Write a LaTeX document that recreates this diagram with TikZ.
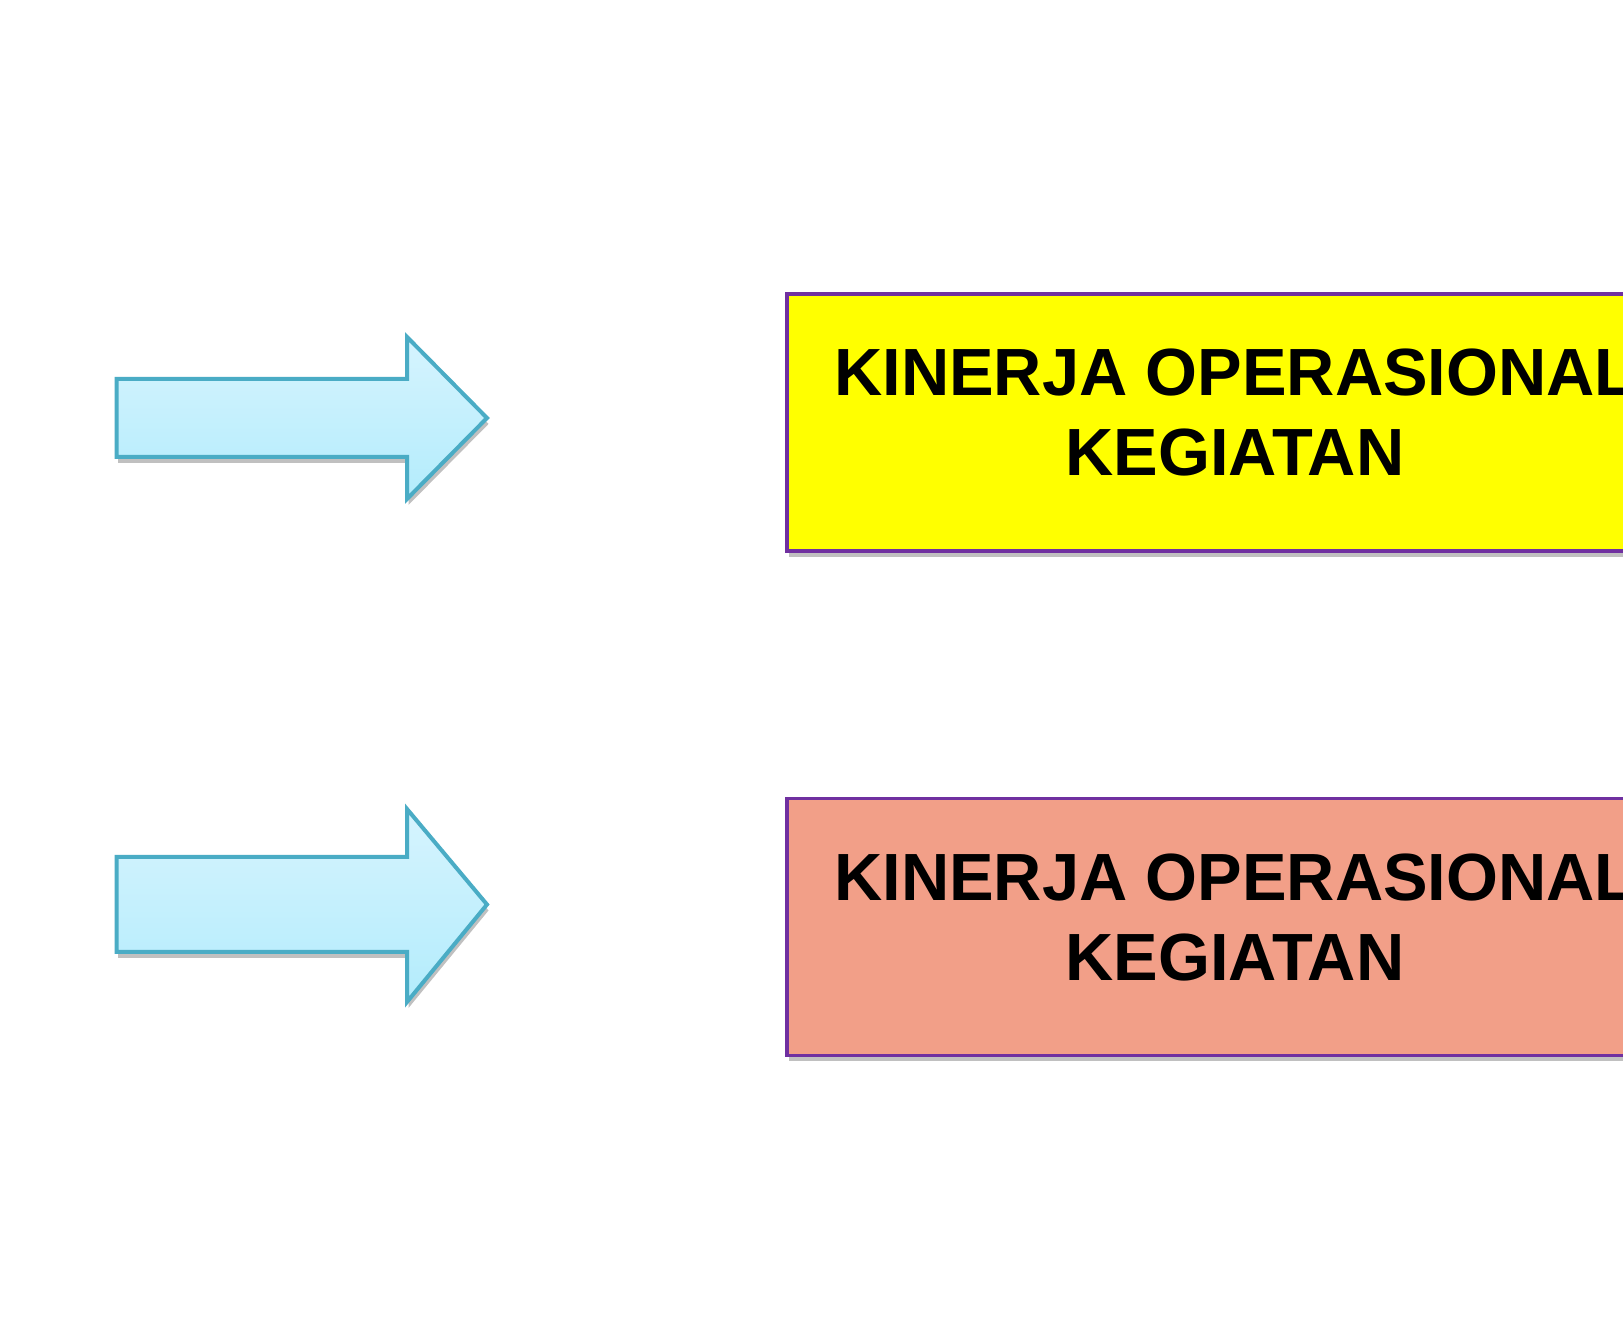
\documentclass[tikz,border=0pt]{standalone}
\usepackage{fontspec}
\setmainfont{Liberation Sans}
\usetikzlibrary{shadows}
\definecolor{ungu}{HTML}{7030A0}
\definecolor{kuning}{HTML}{FFFF00}
\definecolor{salem}{HTML}{F29F88}
\definecolor{birutepi}{HTML}{4AACC5}
\definecolor{birumuda1}{HTML}{D6F4FE}
\definecolor{birumuda2}{HTML}{B3ECFC}
\tikzset{
	kotak/.style={draw=ungu, line width=0.7mm, minimum width=17.92cm, minimum height=5.14cm, align=center,
		font=\fontsize{38}{45.5}\selectfont\bfseries, text depth=0.4cm,
		drop shadow={shadow xshift=0.03cm, shadow yshift=-0.12cm, opacity=0.35, fill=black!70}},
	panah/.style={draw=birutepi, line width=0.8mm, top color=birumuda1, bottom color=birumuda2,
		drop shadow={shadow xshift=0.03cm, shadow yshift=-0.12cm, opacity=0.35, fill=black!70}}
}

\begin{document}
\begin{tikzpicture}
			%%%%% START %%%%%
			
			\fill[white] (0, 0) rectangle (32.46, 26.84);
			\useasboundingbox (0, 0) rectangle (32.46, 26.84);
			
			\draw[panah] (2.33, 19.26) -- (8.14, 19.26) -- (8.14, 20.10) -- (9.74, 18.48) -- (8.14, 16.86) -- (8.14, 17.70) -- (2.33, 17.70) -- cycle;
			\draw[panah] (2.33, 9.70) -- (8.14, 9.70) -- (8.14, 10.66) -- (9.74, 8.75) -- (8.14, 6.80) -- (8.14, 7.80) -- (2.33, 7.80) -- cycle;
			
			\node[kotak, fill=kuning] (kinerja1) at (24.70, 18.39) {KINERJA OPERASIONAL\\KEGIATAN};
			\node[kotak, fill=salem] (kinerja2) at (24.70, 8.30) {KINERJA OPERASIONAL\\KEGIATAN};
			
			%%%%% END %%%%%
\end{tikzpicture}
\end{document}
